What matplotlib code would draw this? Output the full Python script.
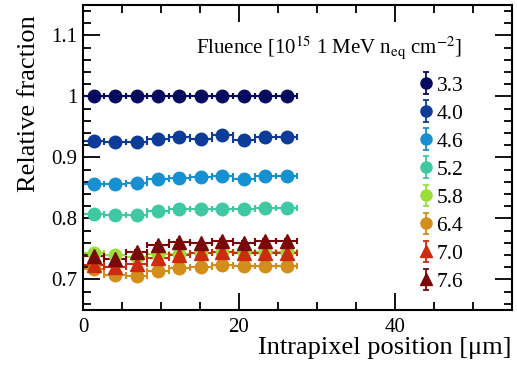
import numpy as np
import matplotlib
matplotlib.use("Agg")
import matplotlib.pyplot as plt
from matplotlib.ticker import MultipleLocator

plt.rcParams["font.family"] = ["Liberation Serif", "DejaVu Serif"]
plt.rcParams["mathtext.fontset"] = "stix"

# bin centres across half a pixel (55 um pitch), 10 bins
x = np.array([1.375, 4.125, 6.875, 9.625, 12.375, 15.125, 17.875, 20.625, 23.375, 26.125])
xerr = 1.375

fluences = ["3.3", "4.0", "4.6", "5.2", "5.8", "6.4", "7.0", "7.6"]
colors = ["#070b5e", "#0c3c98", "#1690d0", "#3ec9a2", "#9ade3a", "#d38d1a", "#cc2b0c", "#7a0808"]
markers = ["o", "o", "o", "o", "o", "o", "^", "^"]

frac_33 = [1.000, 1.000, 1.000, 1.000, 1.000, 1.000, 1.000, 1.000, 1.000, 1.000]
frac_40 = [0.927, 0.925, 0.925, 0.930, 0.933, 0.930, 0.936, 0.928, 0.933, 0.934]
frac_46 = [0.856, 0.857, 0.858, 0.864, 0.866, 0.868, 0.870, 0.865, 0.869, 0.870]
frac_52 = [0.808, 0.806, 0.806, 0.812, 0.816, 0.815, 0.816, 0.815, 0.817, 0.817]
frac_58 = [0.744, 0.740, 0.737, 0.741, 0.742, 0.743, 0.745, 0.745, 0.745, 0.745]
frac_64 = [0.717, 0.707, 0.706, 0.714, 0.718, 0.721, 0.724, 0.722, 0.722, 0.722]
frac_70 = [0.724, 0.720, 0.725, 0.735, 0.740, 0.743, 0.745, 0.743, 0.744, 0.744]
frac_76 = [0.738, 0.734, 0.745, 0.756, 0.762, 0.759, 0.763, 0.760, 0.763, 0.763]
fractions = [frac_33, frac_40, frac_46, frac_52, frac_58, frac_64, frac_70, frac_76]
yerr = 0.003

fig = plt.figure(figsize=(5.17, 3.69), dpi=100)
ax = fig.add_axes([0.1605, 0.160, 0.8295, 0.827])

handles = []
for lab, c, m, y in zip(fluences, colors, markers, fractions):
    ax.errorbar(x, y, xerr=xerr, yerr=yerr, fmt=m, color=c, ms=9 if m == "o" else 10,
                elinewidth=1.5, capsize=2.5, capthick=1.5, lw=0)
    # legend proxy: marker with vertical bar only
    h = ax.errorbar([np.nan], [np.nan], yerr=[1], fmt=m, color=c,
                    ms=8 if m == "o" else 9, elinewidth=1.3, capsize=2, capthick=1.3)
    handles.append(h)

ax.set_xlim(0, 55)
ax.set_ylim(0.65, 1.15)
ax.xaxis.set_major_locator(MultipleLocator(20))
ax.xaxis.set_minor_locator(MultipleLocator(5))
ax.yaxis.set_major_locator(MultipleLocator(0.1))
ax.yaxis.set_minor_locator(MultipleLocator(0.02))
ax.yaxis.set_major_formatter(plt.FuncFormatter(lambda v, p: "1" if abs(v - 1) < 1e-6 else f"{v:.1f}"))
ax.tick_params(which="both", direction="in", top=True, right=True, labelsize=15, width=1.3)
ax.tick_params(which="major", length=12)
ax.tick_params(axis="y", which="major", pad=4)
ax.tick_params(axis="x", which="major", pad=6)
ax.tick_params(which="minor", length=6)
for s in ax.spines.values():
    s.set_linewidth(1.5)

ax.set_xlabel("Intrapixel position [μm]", fontsize=19, loc="right", labelpad=0)
ax.set_ylabel("Relative fraction", fontsize=19, loc="top")
ax.yaxis.set_label_coords(-0.1, 0.966)

ax.text(0.883, 0.861, "Fluence [10$^{15}$ 1 MeV n$_{\\mathrm{eq}}$ cm$^{-2}$]",
        transform=ax.transAxes, ha="right", va="center", fontsize=15)
ax.legend(handles, fluences, loc="upper left", bbox_to_anchor=(0.779, 0.768),
          frameon=False, fontsize=15.5, handlelength=0.8, handletextpad=0.1,
          labelspacing=0.37, borderpad=0, borderaxespad=0)

fig.savefig("out.png", dpi=100)
